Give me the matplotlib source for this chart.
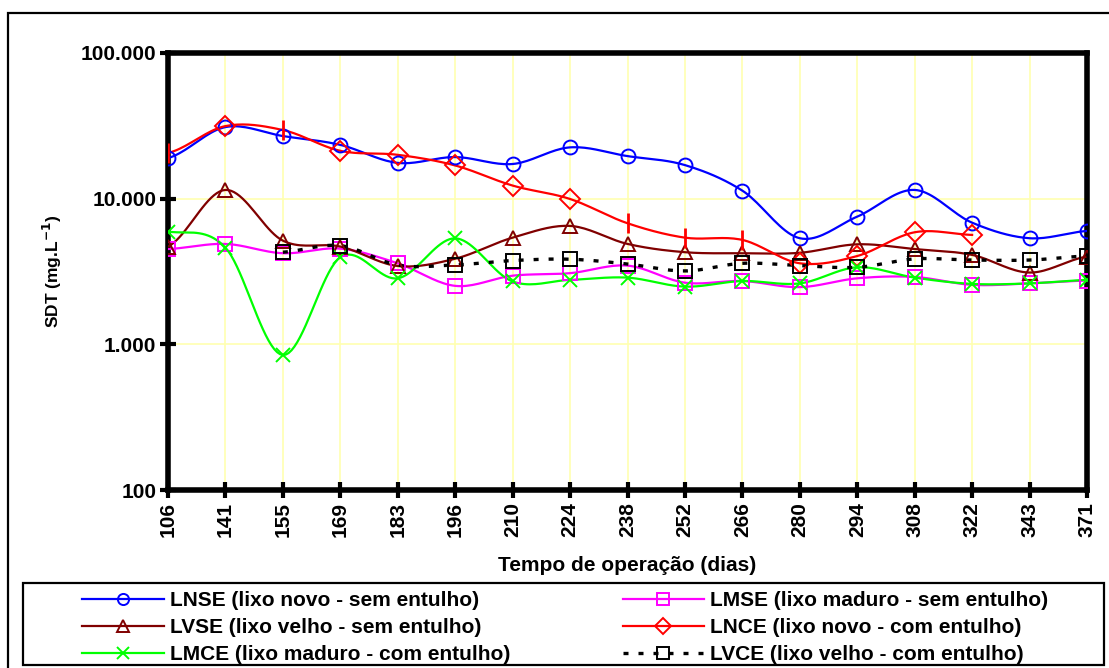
import numpy as np
import matplotlib.pyplot as plt
from matplotlib.patches import Rectangle
from matplotlib.ticker import FixedLocator, FixedFormatter, NullLocator

plt.rcParams['font.family'] = ['Liberation Sans', 'DejaVu Sans']
plt.rcParams['font.weight'] = 'bold'

dias = ['106', '141', '155', '169', '183', '196', '210', '224', '238',
        '252', '266', '280', '294', '308', '322', '343', '371']

# SDT (mg/L) por celula
lnse = [19000, 31000, 26900, 23400, 17600, 19300, 17300, 22500, 19600,
        17000, 11350, 5350, 7530, 11480, 6840, 5350, 6000]
lmse = [4510, 4890, 4220, 4540, 3600, 2520, 2960, 3080, 3470,
        2650, 2720, 2470, 2840, 2900, 2560, 2620, 2740]
lvse = [4690, 11480, 5150, 4690, 3450, 3870, 5400, 6500, 4890,
        4290, 4220, 4250, 4860, 4510, 4110, 3110, 4000]
lnce = [20600, 31500, 29600, 21300, 20000, 16900, 12300, 9950, 6780,
        5400, 5210, 3600, 4040, 5880, 5640]
lmce = [5940, 4610, 845, 3960, 2840, 5340, 2700, 2770, 2870,
        2490, 2720, 2620, 3380, 2870, 2600, 2620, 2770]
lvce_ini = 2  # LVCE comeca no dia 155
lvce = [4290, 4760, 3500, 3510, 3760, 3840, 3560,
        3190, 3600, 3470, 3380, 3860, 3790, 3790, 4040]


def suaviza(y, x0=0, n=20):
    # curva suave (Catmull-Rom) em escala log, como a linha suavizada do Excel
    ly = np.log10(np.array(y, dtype=float))
    xs = np.arange(len(ly)) + x0
    p = np.concatenate([[ly[0]], ly, [ly[-1]]])
    ox, oy = [], []
    for i in range(len(ly) - 1):
        p0, p1, p2, p3 = p[i], p[i + 1], p[i + 2], p[i + 3]
        t = np.linspace(0, 1, n, endpoint=False)
        c1 = p1 + (p2 - p0) / 6
        c2 = p2 - (p3 - p1) / 6
        yy = ((1 - t) ** 3 * p1 + 3 * (1 - t) ** 2 * t * c1
              + 3 * (1 - t) * t ** 2 * c2 + t ** 3 * p2)
        ox.extend(xs[i] + t)
        oy.extend(yy)
    ox.append(xs[-1])
    oy.append(ly[-1])
    return np.array(ox), 10 ** np.array(oy)


fig = plt.figure(figsize=(11.09, 6.68), dpi=100)
ax = fig.add_axes([168 / 1109, 1 - 490 / 668, (1087 - 168) / 1109, (490 - 53) / 668])

ms = 10
mew = 1.4
lw = 1.6


def serie(y, cor, marc, x0=0, ls='-', marcas=None, label=None, z=3, lwl=lw):
    xs, ys = suaviza(y, x0)
    ax.plot(xs, ys, color=cor, lw=lwl, ls=ls, zorder=z)
    idx = np.arange(len(y)) if marcas is None else np.array(marcas)
    ax.plot(idx + x0, np.array(y)[idx], ls='none', marker=marc, ms=ms,
            mew=mew, mfc='none', mec=cor, zorder=z + 0.5)
    return ax.plot([], [], color=cor, lw=lwl, ls=ls, marker=marc, ms=8,
                   mew=1.4, mfc='none', mec=cor, label=label)[0]


h1 = serie(lnse, '#0000ff', 'o', label='LNSE (lixo novo - sem entulho)')
h2 = serie(lmse, '#ff00ff', 's', label='LMSE (lixo maduro - sem entulho)')
h3 = serie(lvse, '#800000', '^', label='LVSE (lixo velho - sem entulho)')
h4 = serie(lnce, '#ff0000', 'D', marcas=[1, 3, 4, 5, 6, 7, 11, 12, 13, 14],
           label='LNCE (lixo novo - com entulho)')
# pontos do LNCE marcados so com traco vertical
ax.plot([0, 2, 8, 9, 10], [lnce[i] for i in [0, 2, 8, 9, 10]], ls='none',
        marker='|', ms=14, mew=2, color='#ff0000', zorder=3.5)
h5 = serie(lmce, '#00ff00', 'x', label='LMCE (lixo maduro - com entulho)')
h6 = serie(lvce, 'black', 's', x0=lvce_ini, ls=(0, (1.5, 3)), lwl=2.4,
           marcas=[0, 1] + list(range(3, len(lvce))),
           label='LVCE (lixo velho - com entulho)')

ax.set_yscale('log')
ax.set_ylim(100, 100000)
ax.set_xlim(0, len(dias) - 1)
ax.yaxis.set_major_locator(FixedLocator([100, 1000, 10000, 100000]))
ax.yaxis.set_major_formatter(FixedFormatter(['100', '1.000', '10.000', '100.000']))
ax.yaxis.set_minor_locator(NullLocator())
ax.set_xticks(range(len(dias)))
ax.set_xticklabels(dias, rotation=90, fontsize=15, fontweight='bold')
for t in ax.get_yticklabels():
    t.set_fontsize(15)
    t.set_fontweight('bold')
ax.tick_params(axis='both', direction='inout', length=11, width=3, color='black')
ax.tick_params(axis='x', pad=3)
ax.tick_params(axis='y', pad=3)

ax.grid(True, which='major', color='#ffffb0', lw=1.2, zorder=0)
ax.set_axisbelow(True)
for s in ax.spines.values():
    s.set_linewidth(4)
    s.set_capstyle('projecting')

ax.set_xlabel('Tempo de operação (dias)', fontsize=15, fontweight='bold', labelpad=14)
ax.set_ylabel('SDT (mg.L$^{\\mathbf{-1}}$)', fontsize=12.5, fontweight='bold', labelpad=12)

# moldura da figura e caixa da legenda
fig.patches.append(Rectangle((8 / 1109, -0.01), 1.0, 1 - 13 / 668 + 0.01,
                             transform=fig.transFigure, fill=False,
                             lw=1.6, ec='black'))
fig.patches.append(Rectangle((23 / 1109, 3 / 668), (1104 - 23) / 1109,
                             (664 - 582) / 668, transform=fig.transFigure,
                             fill=False, lw=1.6, ec='black'))

leg = fig.legend(handles=[h1, h3, h5, h2, h4, h6], ncol=2, loc='upper left',
                 bbox_to_anchor=(72 / 1109, 1 - 581 / 668), frameon=False,
                 handlelength=3.9, handletextpad=0.3, columnspacing=5.4,
                 labelspacing=0.38, borderpad=0,
                 prop={'family': 'Liberation Sans', 'weight': 'bold', 'size': 15})

fig.savefig('out.png', dpi=100)
